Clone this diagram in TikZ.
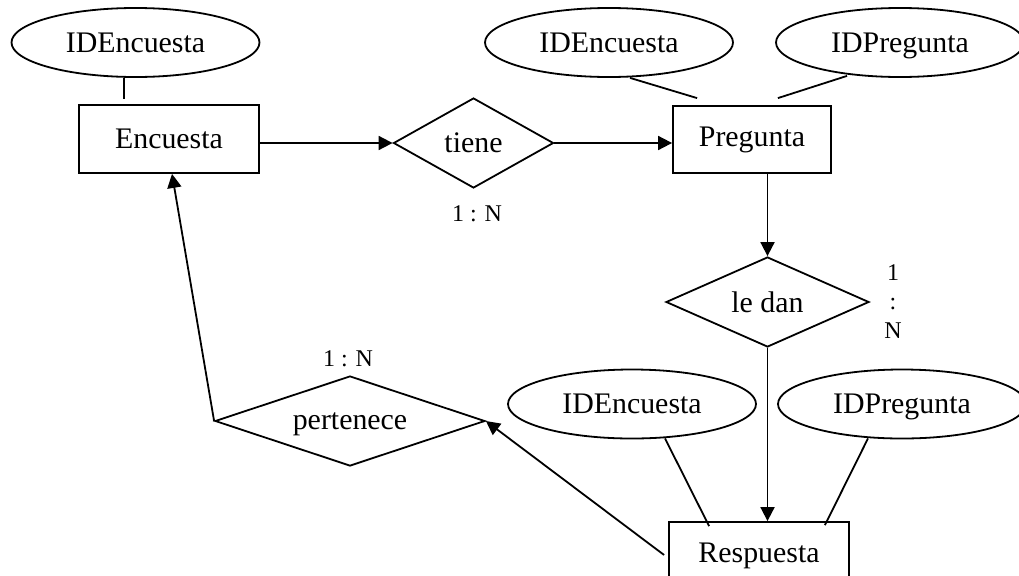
\documentclass[tikz,border=0pt]{standalone}
\usepackage{fontspec}
\setmainfont{Liberation Serif}
\usetikzlibrary{shapes.geometric,arrows.meta,calc}
\begin{document}
\begin{tikzpicture}[x=0.75pt,y=-0.75pt,
  line width=1.35pt,
  every node/.style={inner sep=0pt, font=\fontsize{22.4}{26}\selectfont},
  attr/.style={draw, ellipse, text depth=0pt, minimum width=186pt, minimum height=51.75pt},
  entity/.style={draw, rectangle, minimum width=135pt, minimum height=51pt},
  rel/.style={draw, diamond, text depth=0pt, minimum height=67.5pt},
  card/.style={font=\fontsize{18}{22}\selectfont, align=center},
  arr/.style={-{Triangle[length=10.5pt,width=10.5pt]}}
]
\useasboundingbox (0,0) rectangle (1019,575);
\fill[white] (0,0) rectangle (1019,575);
\clip (0,0) rectangle (1019,575);

% entities
\node[entity] (Enc) at (169,139) {Encuesta};
\node[entity, minimum width=118.5pt, minimum height=50.25pt] (Preg) at (752,139.5) {Pregunta};
\node[entity] (Resp) at (759,556) {Respuesta};

% attributes
\node[attr] (E1) at (135.5,42.5) {IDEncuesta};
\node[attr] (E2) at (609,42.5) {IDEncuesta};
\node[attr] (P2) at (900,42.5) {IDPregunta};
\node[attr] (E3) at (632,404) {IDEncuesta};
\node[attr] (P3) at (902,404) {IDPregunta};

% relationships
\node[rel, aspect=1.78, minimum width=120pt] (tiene) at (473.5,143) {tiene};
\node[rel, aspect=2.25, minimum width=152.25pt] (ledan) at (767.5,302) {le dan};
\node[rel, aspect=3, minimum width=202.5pt] (pert) at (350,421) {pertenece};

% cardinalities
\node[card] (c1) at (477,214) {1 : N};
\node[card] (c2) at (348,359) {1 : N};
\node[card] (c3) at (893,301.5) {1\\:\\N};

% attribute links
\draw ($(E1.south)+(-11.5,0)$) -- ($(Enc.north)+(-45,-5)$);
\draw ($(E2.south)+(21,0)$) -- ($(Preg.north west)+(25,-7)$);
\draw ($(P2.south)+(-53,-2)$) -- ($(Preg.north east)+(-54,-7)$);
\draw ($(E3.south)+(33,-1)$) -- ($(Resp.north west)+(41,5)$);
\draw ($(P3.south)+(-34,-1)$) -- ($(Resp.north east)+(-25,4)$);

% relationship arrows
\draw[arr] (Enc.east |- tiene.west) -- (tiene.west);
\draw[arr] (tiene.east) -- (tiene.east -| Preg.west);
\draw[arr] (ledan.north |- Preg.south) -- (ledan.north);
\draw[arr] (ledan.south) -- (ledan.south |- Resp.north);
\draw[arr] ($(Resp.west)+(-4,-1)$) -- (pert.east);
\draw[arr] (pert.west) -- ($(Enc.south)+(3,0)$);
\end{tikzpicture}
\end{document}
